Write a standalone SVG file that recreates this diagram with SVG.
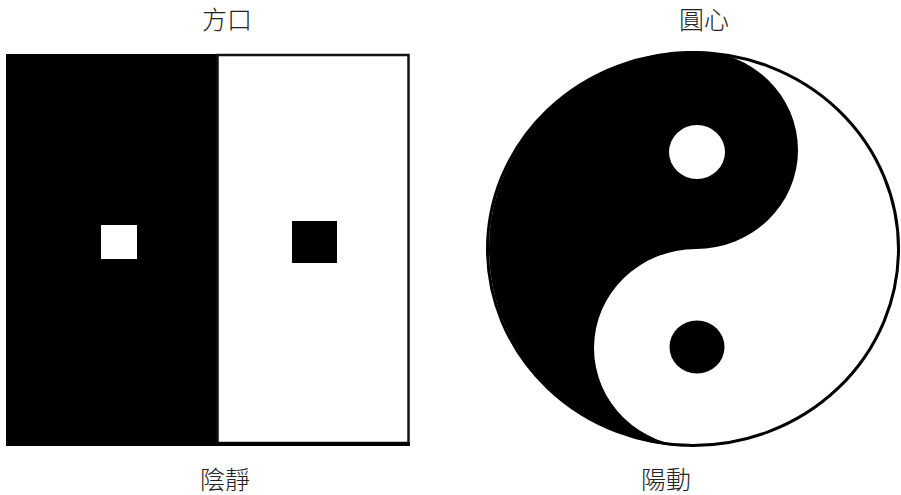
<svg xmlns="http://www.w3.org/2000/svg" width="901" height="495" viewBox="0 0 901 495">
<style>
.lbl{font-family:"Noto Sans CJK TC","Noto Sans CJK SC",sans-serif;font-size:25px;font-weight:300;fill:#222;text-anchor:middle}
</style>
<rect x="0" y="0" width="901" height="495" fill="#fff"/>
<g id="square">
<rect x="6" y="54" width="212" height="392" fill="#000"/>
<rect x="217.5" y="55" width="191" height="388" fill="#fff" stroke="#111" stroke-width="2.5"/>
<rect x="217" y="442" width="193" height="4" fill="#000"/>
<rect x="101" y="225" width="36" height="34" fill="#fff"/>
<rect x="292" y="221" width="45" height="42" fill="#000"/>
</g>
<g id="taiji">
<ellipse cx="693" cy="249" rx="205.5" ry="196.5" fill="#fff"/>
<path d="M 696 51 A 102 99 0 0 1 696 249 A 102 99 0 0 0 696 447 A 207 198 0 0 1 696 51 Z" fill="#000"/>
<ellipse cx="693" cy="249" rx="205.5" ry="196.5" fill="none" stroke="#000" stroke-width="3"/>
<ellipse cx="697" cy="152" rx="28" ry="27" fill="#fff"/>
<ellipse cx="697" cy="347" rx="27.5" ry="26.5" fill="#000"/>
</g>
<g id="labels">
<text class="lbl" x="227" y="29">方口</text>
<text class="lbl" x="704" y="29">圓心</text>
<text class="lbl" x="225" y="489">陰靜</text>
<text class="lbl" x="666" y="489">陽動</text>
</g>
</svg>
